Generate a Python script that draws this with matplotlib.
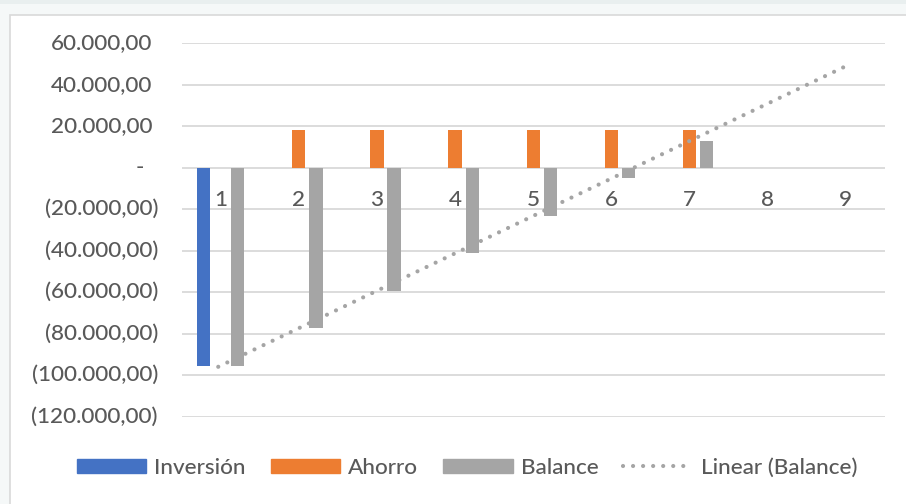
import numpy as np
import matplotlib
matplotlib.use("Agg")
import matplotlib.pyplot as plt
from matplotlib.patches import Rectangle
from matplotlib.lines import Line2D
from matplotlib.transforms import blended_transform_factory, ScaledTranslation

# ---- data ----
categories = [1, 2, 3, 4, 5, 6, 7, 8, 9]
inversion = [-95400, 0, 0, 0, 0, 0, 0, np.nan, np.nan]
ahorro = [0, 18050, 18050, 18050, 18050, 18050, 18050, np.nan, np.nan]
balance = [-95400, -77350, -59300, -41250, -23200, -5150, 12900, np.nan, np.nan]
yticks = [60000, 40000, 20000, 0, -20000, -40000, -60000, -80000, -100000, -120000]
ytick_labels = ["60.000,00", "40.000,00", "20.000,00", "-", "(20.000,00)", "(40.000,00)",
                "(60.000,00)", "(80.000,00)", "(100.000,00)", "(120.000,00)"]
series_names = ["Inversión", "Ahorro", "Balance", "Linear (Balance)"]

FONT = "Lato"
FS = 16.2
FW = 500
TXT = "#595959"
BLUE, ORANGE, GRAY = "#4472C4", "#ED7D31", "#A5A5A5"

W, H = 906, 504
fig = plt.figure(figsize=(W / 100, H / 100), dpi=100)
fig.patch.set_facecolor("#f5f8f8")
# top strip and white chart area
fig.add_artist(Rectangle((0, 1 - 4 / H), 1, 4 / H, transform=fig.transFigure,
                         facecolor="#e9efef", edgecolor="none", zorder=0))
fig.add_artist(Rectangle((9.5 / W, -0.1), 1.2, 1 - 14.5 / H + 0.1, transform=fig.transFigure,
                         facecolor="white", edgecolor="#d9d9d9", linewidth=1.2, zorder=0))

left, right, top, bottom = 181.5, 885, 43.3, 416.7
ax = fig.add_axes([left / W, 1 - bottom / H, (right - left) / W, (bottom - top) / H])
ax.set_facecolor("none")

x = np.array(categories, dtype=float)
bw = 0.17
off = 0.22
ax.bar(x - off, inversion, width=bw, color=BLUE, zorder=3)
ax.bar(x, ahorro, width=bw, color=ORANGE, zorder=3)
ax.bar(x + off, balance, width=bw, color=GRAY, zorder=3)

# linear trendline for balance
bal = np.array(balance, dtype=float)
mask = ~np.isnan(bal)
coef = np.polyfit(x[mask], bal[mask], 1)
xt = np.array([categories[0] - 0.03, categories[-1]], dtype=float)
DOT = (0, (0.01, 2.4))
ax.plot(xt, np.polyval(coef, xt), color=GRAY, linestyle=DOT,
        linewidth=3.0, dash_capstyle="round", zorder=4)

ax.set_xlim(0.5, 9.5)
ax.set_ylim(-120000, 60000)
ax.set_yticks(yticks)
ax.yaxis.grid(True, color="#d9d9d9", linewidth=1.3, zorder=0)
ax.set_axisbelow(True)
ax.tick_params(axis="y", length=0, labelleft=False)
for s in ax.spines.values():
    s.set_visible(False)

# y labels (accounting format alignment)
tr = blended_transform_factory(ax.transAxes, ax.transData)
kw = dict(fontsize=FS, family=FONT, fontweight=FW, color=TXT, va="center")
for v, lab in zip(yticks, ytick_labels):
    if lab == "-":
        ax.text(0, v, lab, ha="center", transform=tr + ScaledTranslation(-42 / 100, 0, fig.dpi_scale_trans), **kw)
    elif lab.startswith("("):
        ax.text(0, v, lab, ha="right", transform=tr + ScaledTranslation(-23.5 / 100, 0, fig.dpi_scale_trans), **kw)
    else:
        ax.text(0, v, lab, ha="right", transform=tr + ScaledTranslation(-29.5 / 100, 0, fig.dpi_scale_trans), **kw)

# category labels next to the zero line
ax.set_xticks(categories)
ax.set_xticklabels([str(c) for c in categories])
ax.spines["bottom"].set_position(("data", 0))
ax.tick_params(axis="x", length=0, pad=16, labelsize=FS, labelcolor=TXT)
for lab in ax.get_xticklabels():
    lab.set_family(FONT)
    lab.set_fontweight(FW)

handles = [
    Rectangle((0, 0), 1, 1, color=BLUE),
    Rectangle((0, 0), 1, 1, color=ORANGE),
    Rectangle((0, 0), 1, 1, color=GRAY),
    Line2D([0], [0], color=GRAY, linestyle=DOT, linewidth=3.0, dash_capstyle="round"),
]
leg = fig.legend(handles, series_names, loc="center", bbox_to_anchor=(467 / W, 1 - 468 / H),
                 ncol=4, frameon=False, prop={"family": FONT, "size": FS, "weight": FW},
                 handlelength=3.1, handleheight=0.6, handletextpad=0.35, columnspacing=1.1,
                 labelcolor=TXT)

fig.savefig("out.png", dpi=100)
